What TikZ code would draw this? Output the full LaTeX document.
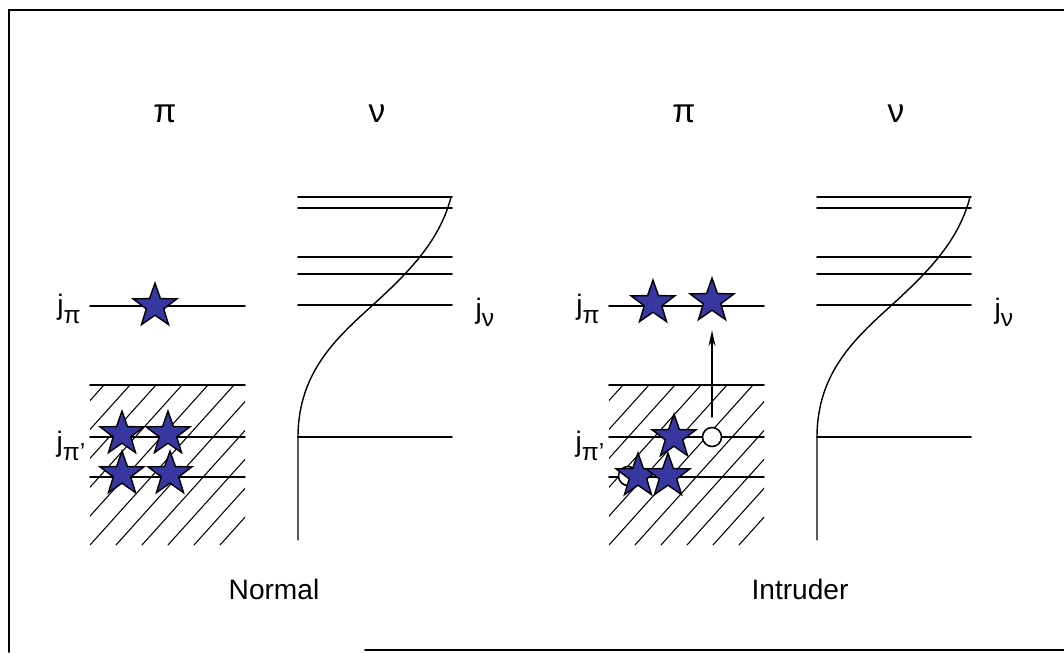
\documentclass[tikz,border=0pt]{standalone}
\usepackage{fontspec}
\setmainfont{Liberation Sans}
\usetikzlibrary{shapes.geometric,arrows.meta}
\definecolor{starblue}{RGB}{55,55,160}
\newcommand{\jsub}[1]{j\raisebox{-0.55ex}{\fontsize{14}{14}\selectfont #1}}

\begin{document}
\begin{tikzpicture}[x=0.02cm, y=-0.02cm, line cap=round,
    lvl/.style={line width=0.9pt},
    hatch/.style={line width=0.6pt},
    elec/.style={star, star points=5, star point ratio=2.5, minimum size=0.92cm,
                 inner sep=0pt, draw=black, line width=0.8pt, fill=starblue},
    hole/.style={circle, draw, line width=0.9pt, fill=white, minimum size=0.38cm, inner sep=0pt},
    big/.style={font=\fontsize{19}{19}\selectfont},
    lab/.style={font=\fontsize{16}{16}\selectfont}]
  \useasboundingbox (0,0) rectangle (1064,652);
  % Rahmen
  \draw[line width=1.1pt] (9,652) -- (9,10) -- (1064,10);
  \draw[line width=1.1pt] (365,650) -- (1064,650);

  \foreach \dx/\p in {0/L, 519/R}{
    \begin{scope}[shift={(\dx,0)}]
      \node[big] (\p pi) at (165,114) {π};
      \node[big] (\p nu) at (377,114) {ν};
      % Protonen
      \node[lab] (\p jpi) at (69,309) {\jsub{π}};
      \node[lab] (\p jpip) at (71,446) {\jsub{π'}};
      \draw[lvl] (90,306) -- (245,306);
      \draw[lvl] (90,385) -- (245,385);
      \draw[lvl] (90,437) -- (245,437);
      \draw[lvl] (90,477) -- (245,477);
      \begin{scope}
        \clip (90,385) rectangle (245,545);
        \foreach \k in {-6,...,6}
          \draw[hatch] (90+\k*26,545) -- (234+\k*26,385);
      \end{scope}
      % Neutronen
      \node[lab] (\p jnu) at (485,312) {\jsub{ν}};
      \foreach \y in {197,208,257,274,305,437}
        \draw[lvl] (298,\y) -- (452,\y);
      \draw[line width=0.8pt] (298,540) -- (298,437)
        .. controls (298,370) and (340,335) .. (375,303)
        .. controls (410,271) and (440,240) .. (451,197);
    \end{scope}
  }

  \node[lab] (normal) at (274,589) {Normal};
  \node[lab] (intruder) at (800,589) {Intruder};

  % Normal
  \node[elec] (n1) at (155,306) {};
  \node[elec] (n2) at (122,434) {};
  \node[elec] (n3) at (168,434) {};
  \node[elec] (n4) at (122,474) {};
  \node[elec] (n5) at (170,474) {};

  % Intruder
  \node[hole] (h2) at (628,476) {};
  \node[hole] (h1) at (712,437) {};
  \node[elec] (r1) at (653,303) {};
  \node[elec] (r2) at (712,301) {};
  \node[elec] (r3) at (674,437) {};
  \node[elec] (r4) at (638,476) {};
  \node[elec] (r5) at (668,476) {};
  \draw[-{Stealth[length=9pt,width=4pt]}, line width=0.7pt,
        shorten <=5.5pt, shorten >=11pt] (h1) -- (r2);
\end{tikzpicture}
\end{document}
